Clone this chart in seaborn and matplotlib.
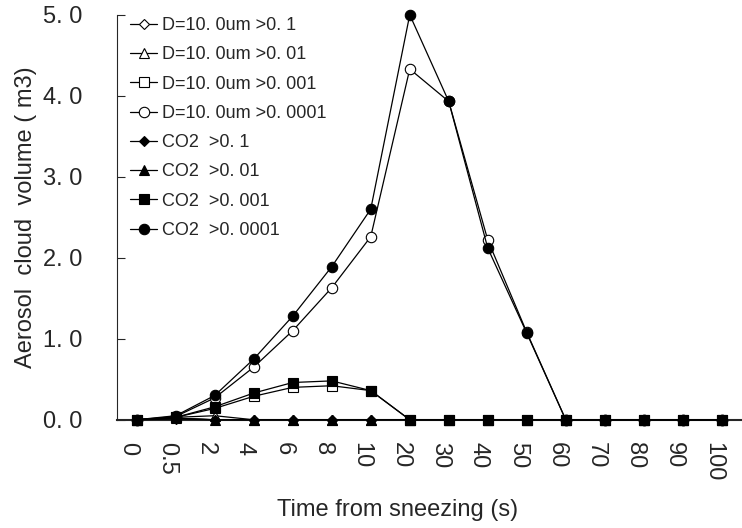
import numpy as np
import matplotlib
matplotlib.use("Agg")
import matplotlib.pyplot as plt
import matplotlib.transforms as mtransforms
import seaborn as sns

# categories on the time axis (seconds from sneezing)
time_labels = ["0", "0.5", "2", "4", "6", "8", "10", "20", "30", "40",
               "50", "60", "70", "80", "90", "100"]

# aerosol cloud volume (m3) for each threshold
d10_01 = [0, 0.02, 0.0, 0, 0, 0, 0, 0, 0, 0, 0, 0, 0, 0, 0, 0]
d10_001 = [0, 0.03, 0.05, 0, 0, 0, 0, 0, 0, 0, 0, 0, 0, 0, 0, 0]
d10_0001 = [0, 0.03, 0.14, 0.29, 0.40, 0.42, 0.36, 0, 0, 0, 0, 0, 0, 0, 0, 0]
d10_00001 = [0, 0.04, 0.27, 0.65, 1.10, 1.63, 2.26, 4.33, 3.93, 2.22, 1.08, 0, 0, 0, 0, 0]
co2_01 = [0, 0.01, 0.0, 0, 0, 0, 0, 0, 0, 0, 0, 0, 0, 0, 0, 0]
co2_001 = [0, 0.02, 0.0, 0, 0, 0, 0, 0, 0, 0, 0, 0, 0, 0, 0, 0]
co2_0001 = [0, 0.03, 0.16, 0.33, 0.46, 0.48, 0.36, 0, 0, 0, 0, 0, 0, 0, 0, 0]
co2_00001 = [0, 0.05, 0.30, 0.75, 1.28, 1.89, 2.60, 5.00, 3.93, 2.12, 1.07, 0, 0, 0, 0, 0]

sns.set_style("white")
plt.rcParams['font.family'] = ['Liberation Sans', 'DejaVu Sans']

fig = plt.figure(figsize=(7.42, 5.28), dpi=100)
ax = fig.add_axes([0.158, 0.205, 0.841, 0.767])

x = np.arange(len(time_labels))

series = [
    ("D=10. 0um >0. 1", d10_01, "D", "white", 5.5, 2),
    ("D=10. 0um >0. 01", d10_001, "^", "white", 7.5, 2),
    ("D=10. 0um >0. 001", d10_0001, "s", "white", 7.5, 2),
    ("D=10. 0um >0. 0001", d10_00001, "o", "white", 7.5, 2),
    ("CO2  >0. 1", co2_01, "D", "black", 5.5, 3),
    ("CO2  >0. 01", co2_001, "^", "black", 7.5, 3),
    ("CO2  >0. 001", co2_0001, "s", "black", 7.5, 5),
    ("CO2  >0. 0001", co2_00001, "o", "black", 7.5, 4),
]

for label, vals, mk, fc, ms, z in series:
    sns.lineplot(x=x, y=vals, ax=ax, color="black", linewidth=0.9,
                 marker=mk, markersize=ms, markerfacecolor=fc,
                 markeredgecolor="black", markeredgewidth=0.8,
                 label=label, zorder=z, clip_on=False)

ax.set_xlim(-0.5, len(time_labels) - 0.5)
ax.set_ylim(0, 5)
ax.set_yticks([0, 1, 2, 3, 4, 5])
ax.set_yticklabels(["0. 0", "1. 0", "2. 0", "3. 0", "4. 0", "5. 0"], fontsize=17)
ax.set_xticks(x)
ax.set_xticklabels(time_labels, rotation=-90, fontsize=17, va="top", ha="center")
ax.set_xticks(np.arange(-0.5, len(time_labels), 1), minor=True)
ax.tick_params(axis="x", which="major", length=0, pad=16)
ax.tick_params(axis="x", which="minor", direction="in", length=6, width=0.8)
ax.tick_params(axis="y", direction="in", length=6, width=0.8, pad=25, left=True)

# tick labels sit a little left of the category centres
shift = mtransforms.ScaledTranslation(-0.09, 0, fig.dpi_scale_trans)
for lbl in ax.get_xticklabels():
    lbl.set_transform(lbl.get_transform() + shift)

for side in ["top", "right"]:
    ax.spines[side].set_visible(False)
ax.spines["left"].set_linewidth(0.8)
ax.spines["bottom"].set_linewidth(1.5)

ax.set_xlabel("Time from sneezing (s)", fontsize=17)
ax.xaxis.set_label_coords(0.449, -0.195)
ax.set_ylabel("Aerosol  cloud  volume ( m3)", fontsize=17)
ax.yaxis.set_label_coords(-0.128, 0.5)

ax.legend(loc="upper left", bbox_to_anchor=(130 / 742, 1 - 17 / 528),
          bbox_transform=fig.transFigure, frameon=False,
          fontsize=13, handlelength=1.5, handletextpad=0.3,
          labelspacing=0.68, borderaxespad=0, borderpad=0)

fig.savefig("out.png", dpi=100)
